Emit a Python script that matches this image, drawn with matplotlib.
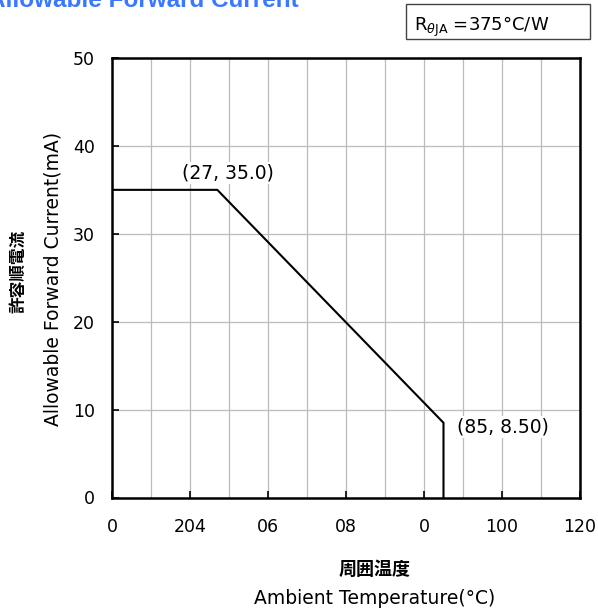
import matplotlib
matplotlib.use('Agg')
import matplotlib.pyplot as plt
from matplotlib.ticker import MultipleLocator
from matplotlib.patches import Rectangle

plt.rcParams['font.family'] = ['DejaVu Sans', 'Noto Sans CJK JP']

# derating curve
temp = [0, 27, 85, 85]
current = [35.0, 35.0, 8.5, 0]
x_ticks = [0, 20, 40, 60, 80, 100, 120]
x_tick_labels = ['0', '204', '06', '08', '0', '100', '120']
y_ticks = [0, 10, 20, 30, 40, 50]
points = [(27, 35.0, '(27, 35.0)'), (85, 8.5, '(85, 8.50)')]

fig = plt.figure(figsize=(5.98, 6.15), dpi=100)
ax = fig.add_axes([112/598, 1 - 497.5/615, 468/598, 439.5/615])

ax.plot(temp, current, color='black', lw=1.5, solid_joinstyle='miter')
ax.set_xlim(0, 120)
ax.set_ylim(0, 50)
ax.set_xticks(x_ticks)
ax.set_xticklabels(x_tick_labels)
ax.set_yticks(y_ticks)
ax.xaxis.set_minor_locator(MultipleLocator(10))
ax.grid(True, which='both', axis='x', color='#bcbcbc', lw=0.9)
ax.grid(True, which='major', axis='y', color='#bcbcbc', lw=0.9)
ax.set_axisbelow(True)
ax.tick_params(which='major', direction='in', length=5, width=1.2, labelsize=12.5)
ax.tick_params(axis='x', pad=15)
ax.tick_params(axis='y', pad=12.5)
ax.tick_params(which='minor', length=0)
for s in ax.spines.values():
    s.set_linewidth(1.8)

ax.text(points[0][0] + 2.7, points[0][1] + 1.9, points[0][2], ha='center', va='center',
        fontsize=13.5, bbox=dict(facecolor='white', edgecolor='none', pad=1))
ax.text(points[1][0] + 3.5, points[1][1] - 0.5, points[1][2], ha='left', va='center',
        fontsize=13.5, bbox=dict(facecolor='white', edgecolor='none', pad=1))

# axis labels
fig.text(53/598, 1 - 278.5/615, 'Allowable Forward Current(mA)', rotation=90,
         ha='center', va='center', fontsize=13.5)
fig.text(18/598, 1 - 271/615, '許容順電流', rotation=90, ha='center', va='center',
         fontsize=12, family='Noto Sans CJK JP', fontweight='bold')
fig.text(375/598, 1 - 569/615, '周囲温度', ha='center', va='center',
         fontsize=13, family='Noto Sans CJK JP', fontweight='bold')
fig.text(375/598, 1 - 598/615, 'Ambient Temperature(°C)', ha='center', va='center',
         fontsize=13.5)

# title, partly off the top of the canvas
fig.text(-12/598, 1 - 7/615, 'Allowable Forward Current', ha='left', va='baseline',
         fontsize=17.5, fontweight='bold', color='#3a78ff', family='Liberation Sans')

# thermal resistance box
fig.patches.append(Rectangle((406/598, 1 - 39/615), 184/598, 35/615,
                             transform=fig.transFigure, facecolor='white',
                             edgecolor='#444444', lw=1))
fig.text(414/598, 1 - 31/615, r'R$_{\theta\mathrm{JA}}$ =375°C/W', ha='left', va='baseline',
         fontsize=13)

fig.savefig('out.png', dpi=100)
